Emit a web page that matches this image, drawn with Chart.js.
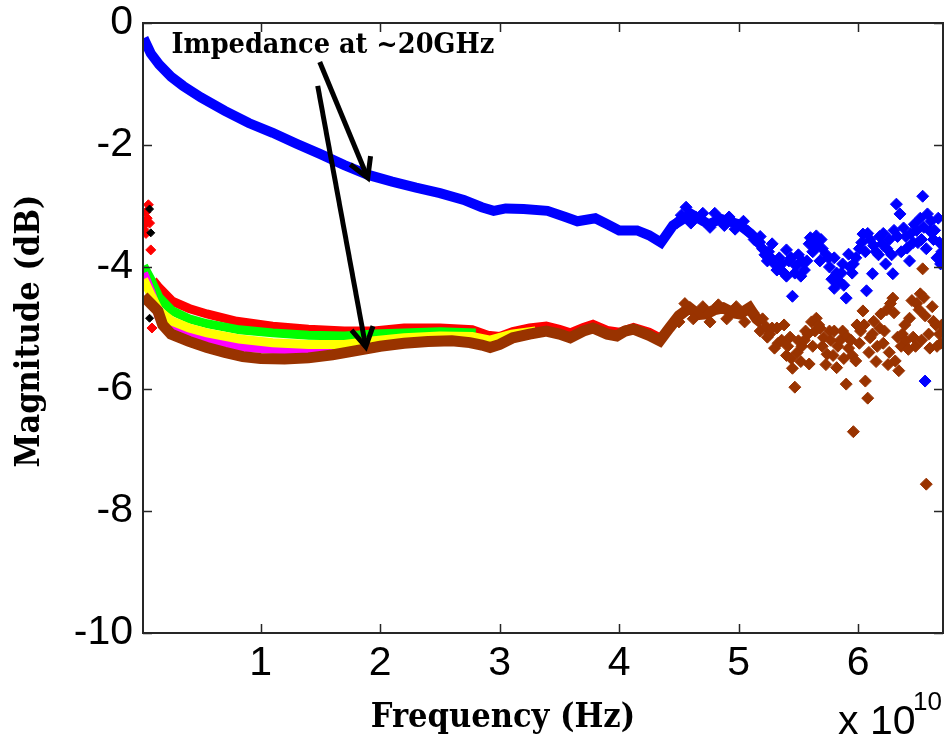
<!DOCTYPE html>
<html lang="en">
<head>
<meta charset="UTF-8" />
<title>Magnitude vs frequency</title>
<style>
  html, body { margin: 0; padding: 0; background: #fff; }
  #wrapper { width: 945px; height: 740px; }
  canvas { display: block; }
</style>
</head>
<body>
<div id="wrapper">
  <canvas id="chart" width="945" height="740"></canvas>
</div>

<script src="https://cdn.jsdelivr.net/npm/chart.js@4.4.1/dist/chart.umd.min.js"></script>
<script>
// frequency in units of 1e10 Hz, magnitude in dB
const xTickValues = [1, 2, 3, 4, 5, 6];
const yTickValues = [0, -2, -4, -6, -8, -10];

// blue trace (upper)
const blueFreq = [0.02, 0.08, 0.15, 0.25, 0.35, 0.5, 0.7, 0.9, 1.1, 1.3, 1.5, 1.7, 1.9, 2.1, 2.3, 2.5, 2.7, 2.85, 2.95, 3.05, 3.2, 3.4, 3.55, 3.65, 3.8, 3.9, 4.0, 4.15, 4.25, 4.35, 4.45, 4.6, 4.75, 4.85, 5.0, 5.1, 5.2];
const blueDb = [-0.25, -0.5, -0.68, -0.88, -1.03, -1.22, -1.44, -1.64, -1.8, -1.98, -2.15, -2.33, -2.49, -2.6, -2.7, -2.79, -2.9, -3.02, -3.08, -3.04, -3.05, -3.08, -3.18, -3.25, -3.2, -3.3, -3.4, -3.4, -3.48, -3.6, -3.32, -3.13, -3.3, -3.21, -3.3, -3.45, -3.65];
const blueNoiseFreq = [4.48, 4.52, 4.56, 4.6, 4.64, 4.7, 4.76, 4.8, 4.88, 4.92, 4.97, 5.04, 5.08, 5.13, 5.16, 5.18, 5.2, 5.22, 5.24, 5.25, 5.27, 5.28, 5.3, 5.32, 5.34, 5.36, 5.38, 5.4, 5.4, 5.42, 5.44, 5.45, 5.47, 5.48, 5.5, 5.52, 5.53, 5.55, 5.57, 5.59, 5.6, 5.62, 5.63, 5.65, 5.66, 5.68, 5.69, 5.7, 5.73, 5.75, 5.76, 5.78, 5.8, 5.8, 5.82, 5.84, 5.86, 5.87, 5.88, 5.9, 5.92, 5.93, 5.95, 5.96, 5.98, 6.01, 6.03, 6.04, 6.06, 6.07, 6.08, 6.1, 6.12, 6.13, 6.15, 6.17, 6.18, 6.2, 6.21, 6.23, 6.24, 6.26, 6.28, 6.29, 6.3, 6.32, 6.33, 6.35, 6.36, 6.38, 6.4, 6.41, 6.43, 6.44, 6.46, 6.47, 6.49, 6.5, 6.52, 6.53, 6.54, 6.55, 6.56, 6.57, 6.58, 6.6, 6.61, 6.63, 6.64, 6.66, 6.67, 6.68, 6.69, 6.7];
const blueNoiseDb = [-3.28, -3.15, -3.02, -3.28, -3.18, -3.12, -3.35, -3.12, -3.32, -3.18, -3.38, -3.25, -3.42, -3.55, -3.6, -3.5, -3.7, -3.8, -3.9, -3.75, -3.85, -3.62, -3.95, -4.05, -3.85, -3.95, -4.1, -3.72, -4.15, -3.9, -3.85, -4.48, -4.1, -3.98, -3.8, -4.15, -3.9, -4.05, -3.9, -3.62, -3.52, -3.75, -3.6, -3.49, -3.65, -3.9, -3.55, -3.7, -3.79, -3.85, -4.0, -4.2, -3.85, -4.35, -4.1, -4.23, -4.1, -3.95, -4.3, -4.51, -3.79, -4.0, -4.1, -3.95, -3.85, -3.7, -3.6, -3.46, -3.75, -4.39, -3.45, -3.55, -4.11, -3.65, -3.75, -3.8, -3.5, -3.62, -3.45, -3.95, -3.7, -3.55, -3.8, -4.11, -3.4, -2.97, -3.5, -3.13, -3.75, -3.36, -3.5, -3.69, -3.9, -3.45, -3.6, -3.3, -3.4, -3.6, -3.2, -3.55, -2.84, -3.35, -5.87, -3.7, -3.13, -3.41, -3.25, -3.55, -3.4, -3.85, -3.2, -3.6, -3.95, -3.75];

// lower group of traces
const redFreq = [0.1, 0.15, 0.26, 0.4, 0.55, 0.8, 1.1, 1.4, 1.7, 1.95, 2.2, 2.5, 2.77, 2.9, 3.0, 3.11, 3.25, 3.39, 3.5, 3.59, 3.7, 3.78, 3.9, 4.0, 4.12, 4.25, 4.34];
const redDb = [-4.22, -4.34, -4.56, -4.68, -4.77, -4.89, -4.97, -5.02, -5.05, -5.05, -5.0, -5.0, -5.03, -5.12, -5.14, -5.06, -5.0, -4.97, -5.02, -5.08, -4.99, -4.94, -5.04, -5.07, -4.99, -5.07, -5.16];
const redSpikeFreq = [0.02, 0.03, 0.04, 0.04, 0.05, 0.06, 0.07, 0.08, 0.09];
const redSpikeDb = [-3.38, -3.3, -3.1, -3.45, -3.2, -2.98, -3.28, -3.72, -5.0];
const blackSpikeFreq = [0.07, 0.08, 0.07];
const blackSpikeDb = [-3.05, -3.44, -4.84];
const greenFreq = [0.02, 0.08, 0.15, 0.26, 0.4, 0.55, 0.82, 1.1, 1.4, 1.7, 1.95, 2.2, 2.5, 2.8];
const greenDb = [-3.98, -4.2, -4.5, -4.72, -4.85, -4.93, -5.03, -5.08, -5.12, -5.13, -5.1, -5.08, -5.06, -5.08];
const magentaFreq = [0.02, 0.08, 0.15, 0.26, 0.4, 0.55, 0.82, 1.1, 1.4, 1.6, 1.8];
const magentaDb = [-4.1, -4.4, -4.82, -5.0, -5.12, -5.21, -5.31, -5.35, -5.36, -5.36, -5.33];
const yellowFreq = [0.02, 0.08, 0.15, 0.26, 0.4, 0.55, 0.82, 1.1, 1.4, 1.7, 1.95, 2.2, 2.5, 2.77, 2.92, 3.1, 3.3];
const yellowDb = [-4.2, -4.45, -4.72, -4.89, -5.0, -5.08, -5.18, -5.24, -5.27, -5.27, -5.21, -5.16, -5.13, -5.14, -5.2, -5.1, -5.05];
const brownFreq = [0.02, 0.08, 0.14, 0.18, 0.25, 0.4, 0.55, 0.7, 0.85, 1.0, 1.2, 1.4, 1.6, 1.8, 2.0, 2.2, 2.4, 2.6, 2.75, 2.85, 2.92, 3.0, 3.11, 3.25, 3.39, 3.5, 3.59, 3.7, 3.78, 3.9, 3.98, 4.05, 4.12, 4.25, 4.34, 4.42, 4.5, 4.59, 4.66, 4.73, 4.8, 4.87, 4.95, 5.01, 5.09, 5.15, 5.2];
const brownDb = [-4.48, -4.6, -4.72, -4.95, -5.1, -5.22, -5.32, -5.4, -5.47, -5.5, -5.51, -5.49, -5.44, -5.37, -5.3, -5.25, -5.22, -5.21, -5.24, -5.28, -5.32, -5.27, -5.16, -5.1, -5.05, -5.1, -5.16, -5.05, -5.0, -5.1, -5.13, -5.05, -5.02, -5.12, -5.21, -5.0, -4.8, -4.67, -4.78, -4.77, -4.7, -4.67, -4.75, -4.77, -4.67, -4.85, -4.93];
const brownNoiseFreq = [4.5, 4.55, 4.62, 4.7, 4.76, 4.83, 4.9, 4.98, 5.05, 5.12, 5.18, 5.2, 5.23, 5.24, 5.26, 5.28, 5.3, 5.32, 5.33, 5.36, 5.38, 5.4, 5.41, 5.43, 5.44, 5.45, 5.47, 5.49, 5.5, 5.52, 5.53, 5.55, 5.56, 5.58, 5.59, 5.61, 5.62, 5.64, 5.65, 5.67, 5.68, 5.7, 5.71, 5.73, 5.74, 5.76, 5.77, 5.79, 5.8, 5.82, 5.83, 5.85, 5.87, 5.88, 5.9, 5.91, 5.92, 5.94, 5.95, 5.96, 5.98, 5.99, 6.01, 6.02, 6.04, 6.05, 6.06, 6.08, 6.09, 6.1, 6.12, 6.13, 6.15, 6.16, 6.18, 6.19, 6.21, 6.22, 6.24, 6.25, 6.26, 6.27, 6.29, 6.3, 6.31, 6.33, 6.34, 6.36, 6.37, 6.39, 6.4, 6.42, 6.43, 6.45, 6.46, 6.48, 6.49, 6.51, 6.52, 6.53, 6.54, 6.55, 6.56, 6.57, 6.59, 6.6, 6.62, 6.63, 6.65, 6.66, 6.68, 6.69, 6.7];
const brownNoiseDb = [-4.9, -4.6, -4.85, -4.65, -4.9, -4.62, -4.85, -4.65, -4.9, -4.75, -5.05, -4.85, -4.98, -5.15, -5.1, -5.0, -5.33, -5.0, -5.25, -5.2, -4.95, -5.45, -5.3, -5.15, -5.5, -5.66, -5.97, -5.4, -5.21, -5.55, -5.3, -5.2, -5.05, -5.1, -5.59, -4.9, -5.3, -5.05, -4.84, -4.95, -5.0, -5.3, -5.16, -5.6, -5.43, -5.05, -5.2, -5.45, -5.05, -5.65, -5.3, -5.2, -5.05, -5.5, -5.92, -5.15, -5.33, -5.2, -5.45, -6.7, -5.54, -4.95, -5.25, -5.05, -4.72, -4.95, -5.87, -6.15, -5.4, -5.16, -5.1, -4.89, -5.55, -5.3, -5.0, -4.77, -5.25, -5.05, -4.7, -5.6, -5.4, -4.6, -4.51, -4.75, -5.54, -5.15, -5.7, -5.3, -5.1, -4.95, -5.21, -5.35, -4.84, -4.55, -5.15, -5.3, -4.6, -4.7, -4.44, -5.2, -4.03, -4.5, -4.8, -7.56, -5.1, -5.33, -4.65, -4.89, -4.95, -5.3, -5.1, -5.25, -4.95];

// annotation, in data units
const noteText = 'Impedance at ~20GHz';
const notePos = [0.254, -0.49];
const arrows = [
  { from: [1.494, -0.64], to: [1.896, -2.54] },
  { from: [1.477, -1.03], to: [1.879, -5.31] }
];

const tickFont = "'Liberation Sans', Arial, sans-serif";
const titleFont = "'DejaVu Serif Condensed', 'DejaVu Serif', serif";

function pairs(xs, ys) {
  return xs.map((x, i) => ({ x: x, y: ys[i] }));
}

function trace(label, xs, ys, color, width, order) {
  return {
    label: label,
    data: pairs(xs, ys),
    showLine: true,
    borderColor: color,
    backgroundColor: color,
    borderWidth: width,
    pointRadius: 0,
    tension: 0,
    order: order
  };
}

function cloud(label, xs, ys, color, r, order) {
  return {
    label: label,
    data: pairs(xs, ys),
    showLine: false,
    pointStyle: 'rectRot',
    pointRadius: r,
    borderColor: color,
    backgroundColor: color,
    borderWidth: 1,
    order: order
  };
}

const decor = {
  id: 'decor',
  afterDatasetsDraw(chart) {
    const { ctx, chartArea: a, scales: { x, y } } = chart;
    ctx.save();
    ctx.strokeStyle = '#262626';
    ctx.lineWidth = 1.5;
    ctx.beginPath();
    xTickValues.forEach(v => {
      const px = Math.round(x.getPixelForValue(v)) + 0.5;
      ctx.moveTo(px, a.bottom); ctx.lineTo(px, a.bottom - 9);
      ctx.moveTo(px, a.top); ctx.lineTo(px, a.top + 9);
    });
    yTickValues.forEach(v => {
      const py = Math.round(y.getPixelForValue(v)) + 0.5;
      ctx.moveTo(a.left, py); ctx.lineTo(a.left + 9, py);
      ctx.moveTo(a.right, py); ctx.lineTo(a.right - 9, py);
    });
    ctx.stroke();
    ctx.lineWidth = 2;
    ctx.strokeRect(a.left, a.top, a.right - a.left, a.bottom - a.top);

    ctx.fillStyle = '#000';

    // axis titles
    ctx.font = 'bold 34px ' + titleFont;
    ctx.textAlign = 'center';
    ctx.textBaseline = 'middle';
    ctx.fillText('Frequency (Hz)', a.left + 360, a.bottom + 85);
    ctx.save();
    ctx.translate(30, (a.top + a.bottom) / 2 + 3);
    ctx.rotate(-Math.PI / 2);
    ctx.fillText('Magnitude (dB)', 0, 0);
    ctx.restore();

    // exponent label under the x axis
    ctx.textBaseline = 'alphabetic';
    ctx.textAlign = 'left';
    ctx.font = '41px ' + tickFont;
    ctx.fillText('x 10', a.right - 105, a.bottom + 101);
    ctx.font = '26px ' + tickFont;
    ctx.fillText('10', a.right - 30, a.bottom + 77);

    // annotation text and arrows
    ctx.font = 'bold 28.5px ' + titleFont;
    ctx.fillText(noteText, x.getPixelForValue(notePos[0]), y.getPixelForValue(notePos[1]));
    ctx.strokeStyle = '#000';
    ctx.lineWidth = 5;
    ctx.lineCap = 'butt';
    ctx.lineJoin = 'miter';
    arrows.forEach(ar => {
      const x0 = x.getPixelForValue(ar.from[0]), y0 = y.getPixelForValue(ar.from[1]);
      const x1 = x.getPixelForValue(ar.to[0]), y1 = y.getPixelForValue(ar.to[1]);
      const ang = Math.atan2(y0 - y1, x0 - x1);
      ctx.beginPath();
      ctx.moveTo(x0, y0); ctx.lineTo(x1, y1);
      ctx.stroke();
      ctx.beginPath();
      ctx.moveTo(x1 + 22 * Math.cos(ang - 0.52), y1 + 22 * Math.sin(ang - 0.52));
      ctx.lineTo(x1, y1);
      ctx.lineTo(x1 + 22 * Math.cos(ang + 0.52), y1 + 22 * Math.sin(ang + 0.52));
      ctx.stroke();
    });
    ctx.restore();
  }
};

new Chart('chart', {
  type: 'scatter',
  data: {
    datasets: [
      cloud('blue', blueNoiseFreq, blueNoiseDb, '#0000ff', 6, 0),
      trace('blue', blueFreq, blueDb, '#0000ff', 10, 1),
      cloud('black', blackSpikeFreq, blackSpikeDb, '#000000', 4, 2),
      cloud('brown', brownNoiseFreq, brownNoiseDb, '#993300', 6, 2),
      trace('brown', brownFreq, brownDb, '#993300', 11, 3),
      trace('yellow', yellowFreq, yellowDb, '#ffff00', 9, 4),
      trace('magenta', magentaFreq, magentaDb, '#ff00ff', 9, 5),
      trace('green', greenFreq, greenDb, '#00ff00', 9, 6),
      trace('red', redFreq, redDb, '#ff0000', 9, 7),
      cloud('red', redSpikeFreq, redSpikeDb, '#ff0000', 5, 8)
    ]
  },
  options: {
    responsive: false,
    animation: false,
    layout: { autoPadding: false, padding: { top: 23, right: 2, left: 0, bottom: 0 } },
    plugins: { legend: { display: false }, tooltip: { enabled: false } },
    scales: {
      x: {
        type: 'linear',
        min: 0.015,
        max: 6.71,
        afterFit(scale) {
          scale.height = 107;
          scale.paddingLeft = 0;
          scale.paddingRight = 0;
        },
        afterBuildTicks(scale) { scale.ticks = xTickValues.map(v => ({ value: v })); },
        grid: { display: false, drawTicks: false, tickLength: 0 },
        border: { display: false },
        ticks: { color: '#000', padding: 6, maxRotation: 0, font: { family: tickFont, size: 41 } }
      },
      y: {
        type: 'linear',
        min: -10,
        max: 0,
        afterFit(scale) {
          scale.width = 143;
          scale.paddingTop = 0;
          scale.paddingBottom = 0;
        },
        afterBuildTicks(scale) { scale.ticks = yTickValues.map(v => ({ value: v })); },
        grid: { display: false, drawTicks: false, tickLength: 0 },
        border: { display: false },
        ticks: { color: '#000', padding: 10, font: { family: tickFont, size: 41 } }
      }
    }
  },
  plugins: [decor]
});
</script>
</body>
</html>
